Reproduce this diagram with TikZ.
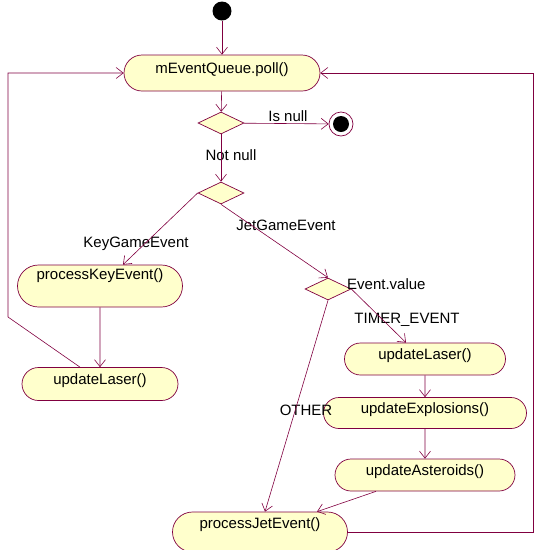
\documentclass[tikz,border=0pt]{standalone}
\usepackage{fontspec}
\setmainfont{Liberation Sans}
\usepackage{tikz}
\usetikzlibrary{arrows.meta, shapes.geometric, shapes.misc}

\definecolor{actfill}{RGB}{255,255,204}
\definecolor{actline}{RGB}{128,0,64}

\begin{document}
\begin{tikzpicture}[x=1pt, y=-1pt, >={Straight Barb[length=7pt,width=11pt]},
    every node/.style={font=\fontsize{15}{17}\selectfont},
    activity/.style={rounded rectangle, draw=actline, fill=actfill, line width=0.7pt, inner sep=0pt, text height=11pt, text depth=10pt},
    choice/.style={diamond, draw=actline, fill=actfill, line width=0.7pt, inner sep=0pt, minimum width=46pt, minimum height=22pt, aspect=2},
    flow/.style={->, draw=actline, line width=0.6pt}]
  \useasboundingbox (0,0) rectangle (537,550);
  % start and end
  \node[circle, fill=black, inner sep=0pt, minimum size=19pt] (start) at (222,11) {};
  \node[circle, draw=actline, fill=white, line width=0.7pt, inner sep=0pt, minimum size=24pt] (final) at (341,124) {};
  \fill (final.center) circle (8pt);
  % activities
  \node[activity, minimum width=196pt, minimum height=36pt] (poll) at (222,73) {mEventQueue.poll()};
  \node[activity, minimum width=165pt, minimum height=42pt, text depth=25pt] (pke) at (100,286) {processKeyEvent()};
  \node[activity, minimum width=156pt, minimum height=33pt] (ulaserA) at (100,384) {updateLaser()};
  \node[activity, minimum width=161pt, minimum height=32pt] (ulaserB) at (425,359) {updateLaser()};
  \node[activity, minimum width=203pt, minimum height=31pt] (uexpl) at (425,413) {updateExplosions()};
  \node[activity, minimum width=180pt, minimum height=32pt] (uaster) at (425,475) {updateAsteroids()};
  \node[activity, minimum width=175pt, minimum height=40pt, text depth=19pt] (pje) at (260,532) {processJetEvent()};
  % decisions
  \node[choice] (dnull) at (221,123) {};
  \node[choice] (dtype) at (221,193) {};
  \node[choice] (dvalue) at (328,289) {};
  % guards
  \node (gisnull) at (288,116) {Is null};
  \node (gnotnull) at (231,155) {Not null};
  \node (gkey) at (136,244) {KeyGameEvent};
  \node (gjet) at (286,225) {JetGameEvent};
  \node[anchor=west, inner sep=0pt] (gvalue) at (347,284) {Event.value};
  \node (gtimer) at (407,320) {TIMER\_EVENT};
  \node (gother) at (306,410) {OTHER};
  % flows
  \draw[flow] (start) -- (poll);
  \draw[flow] (poll) -- (dnull);
  \draw[flow] (dnull) -- (final);
  \draw[flow] (dnull) -- (dtype);
  \draw[flow] (dtype.west) -- ([xshift=23pt]pke.north);
  \draw[flow] (dtype.south) -- (dvalue.north);
  \draw[flow] (dvalue.east) -- ([xshift=-19pt]ulaserB.north);
  \draw[flow] (dvalue.south) -- ([xshift=5pt]pje.north);
  \draw[flow] (pke) -- (ulaserA);
  \draw[flow] ([xshift=-20pt]ulaserA.north) -- (8,317) |- (poll.west);
  \draw[flow] (ulaserB) -- (uexpl);
  \draw[flow] (uexpl) -- (uaster);
  \draw[flow] ([xshift=-49pt]uaster.south) -- ([xshift=57pt]pje.north);
  \draw[flow] (pje.east) -- (533,532) |- (poll.east);
\end{tikzpicture}
\end{document}
